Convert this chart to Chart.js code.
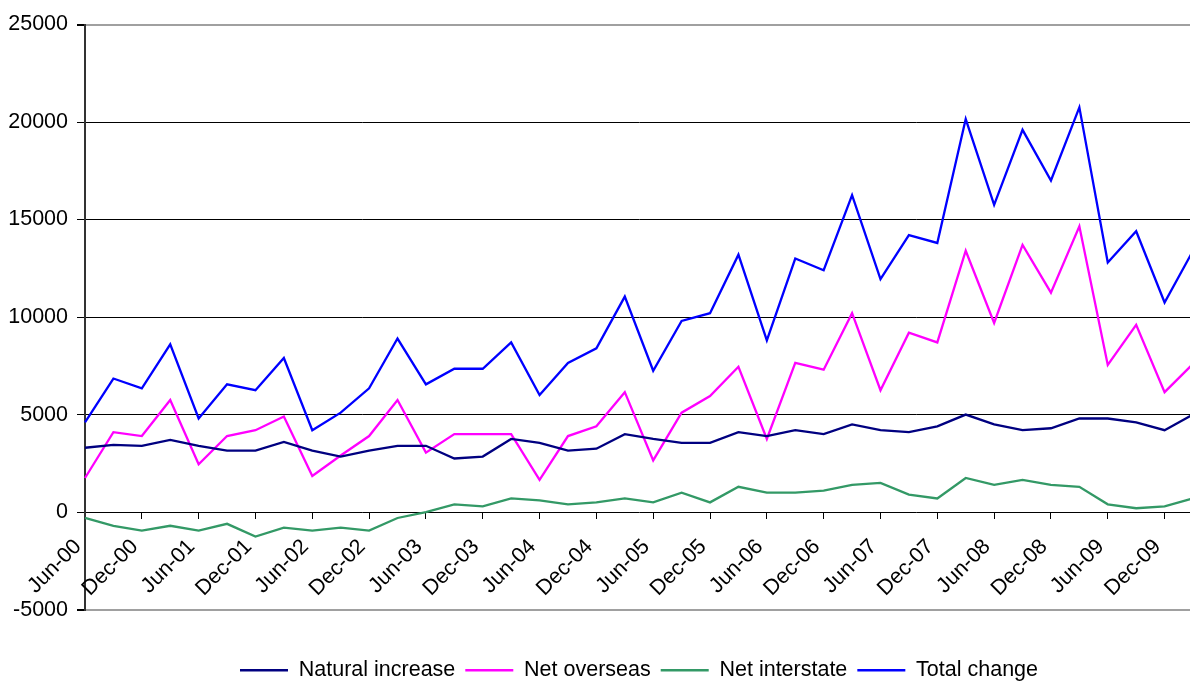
<!DOCTYPE html>
<html><head><meta charset="utf-8">
<script src="https://cdn.jsdelivr.net/npm/chart.js@4.4.1/dist/chart.umd.min.js"></script>
<style>
html,body{margin:0;padding:0;background:#fff;overflow:hidden;width:1190px;height:681px;}
#wrap{position:absolute;left:0;top:0;width:1200px;height:691px;}
</style></head><body>
<div id="wrap"><canvas id="c" width="1200" height="691"></canvas></div>
<script>
const quarters = ['Jun-00','Sep-00','Dec-00','Mar-01','Jun-01','Sep-01','Dec-01','Mar-02','Jun-02','Sep-02',
  'Dec-02','Mar-03','Jun-03','Sep-03','Dec-03','Mar-04','Jun-04','Sep-04','Dec-04','Mar-05',
  'Jun-05','Sep-05','Dec-05','Mar-06','Jun-06','Sep-06','Dec-06','Mar-07','Jun-07','Sep-07',
  'Dec-07','Mar-08','Jun-08','Sep-08','Dec-08','Mar-09','Jun-09','Sep-09','Dec-09','Mar-10'];
const naturalIncrease = [3300,3450,3400,3700,3400,3150,3150,3600,3150,2850,
  3150,3400,3400,2750,2850,3750,3550,3150,3250,4000,
  3750,3550,3550,4100,3900,4200,4000,4500,4200,4100,
  4400,5000,4500,4200,4300,4800,4800,4600,4200,5000];
const netOverseas = [1750,4100,3900,5750,2450,3900,4200,4900,1850,2900,
  3900,5750,3050,4000,4000,4000,1650,3900,4400,6150,
  2650,5100,5950,7450,3750,7650,7300,10200,6250,9200,
  8700,13400,9700,13700,11250,14650,7550,9600,6150,7600];
const netInterstate = [-300,-700,-950,-700,-950,-600,-1250,-800,-950,-800,
  -950,-300,0,400,300,700,600,400,500,700,
  500,1000,500,1300,1000,1000,1100,1400,1500,900,
  700,1750,1400,1650,1400,1300,400,200,300,700];
const totalChange = [4600,6850,6350,8600,4800,6550,6250,7900,4200,5100,
  6350,8900,6550,7350,7350,8700,6000,7650,8400,11050,
  7250,9800,10200,13200,8800,13000,12400,16250,11950,14200,
  13800,20150,15750,19600,17000,20750,12800,14400,10750,13400];
const yMin = -5000, yMax = 25000, yStep = 5000;

const FONT = 'Liberation Sans, Arial, sans-serif';
const mk = (label, data, color) => ({
  label, data, borderColor: color, backgroundColor: color,
  borderWidth: 2.3, pointRadius: 0, pointHoverRadius: 0, tension: 0, fill: false
});

new Chart(document.getElementById('c'), {
  type: 'line',
  data: {
    labels: quarters,
    datasets: [
      mk('Natural increase', naturalIncrease, '#000080'),
      mk('Net overseas', netOverseas, '#FF00FF'),
      mk('Net interstate', netInterstate, '#339966'),
      mk('Total change', totalChange, '#0000FF')
    ]
  },
  options: {
    responsive: false,
    animation: false,
    devicePixelRatio: 1,
    layout: { padding: { top: 24.5, right: 7, left: 0, bottom: 0 } },
    plugins: {
      tooltip: { enabled: false },
      legend: {
        position: 'bottom',
        fullSize: false,
        title: { display: true, text: '', font: { size: 10, lineHeight: 1 }, padding: { top: 29.85, bottom: 0 } },
        labels: {
          font: { family: FONT, size: 21.5 },
          color: '#000',
          boxWidth: 48,
          boxHeight: 2.5,
          padding: 10,
          generateLabels: (chart) => chart.data.datasets.map((ds, i) => ({
            text: ds.label, fillStyle: ds.borderColor, strokeStyle: ds.borderColor,
            lineWidth: 0, hidden: false, datasetIndex: i, fontColor: '#000'
          }))
        }
      }
    },
    scales: {
      y: {
        min: yMin, max: yMax,
        afterFit: (s) => { s.width = 85; },
        ticks: {
          stepSize: yStep,
          font: { family: FONT, size: 21.5 },
          color: '#000',
          padding: 9,
          callback: (v) => String(v)
        },
        grid: {
          color: (c) => (c.tick && (c.tick.value === yMax || c.tick.value === yMin)) ? '#a0a0a0' : '#000',
          lineWidth: (c) => (c.tick && (c.tick.value === yMax || c.tick.value === yMin)) ? 2 : 1,
          tickColor: '#000',
          tickLength: 8
        },
        border: { color: '#333', width: 2 }
      },
      x: {
        type: 'category',
        position: { y: 0 },
        afterFit: (s) => { s.paddingLeft = 0; s.paddingRight = 0; },
        ticks: {
          autoSkip: false,
          maxRotation: 45,
          minRotation: 45,
          font: { family: FONT, size: 21.5 },
          color: '#000',
          padding: 15,
          labelOffset: -7,
          callback: (v, i) => (i % 2 === 0 ? quarters[i] : null)
        },
        grid: { drawOnChartArea: false, drawTicks: true, tickLength: 7, tickColor: '#000', color: '#000' },
        border: { display: false }
      }
    }
  }
});
</script>
</body></html>
